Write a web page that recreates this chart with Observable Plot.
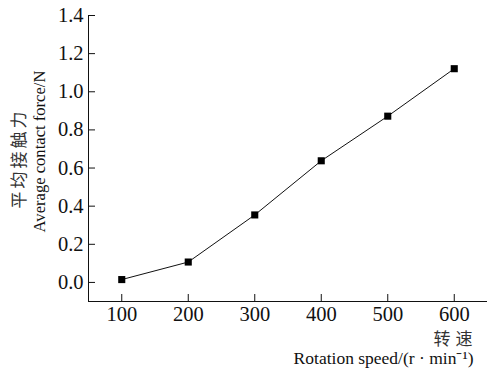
<!DOCTYPE html>
<html><head><meta charset="utf-8">
<script src="https://cdn.jsdelivr.net/npm/d3@7"></script>
<script src="https://cdn.jsdelivr.net/npm/@observablehq/plot@0.6"></script>
<style>body{margin:0;background:#fff} .cn text{letter-spacing:3px} .cnx text{letter-spacing:5px}</style>
</head><body><div id="chart"></div>
<script>
const speeds = [100, 200, 300, 400, 500, 600];
const forces = [0.015, 0.107, 0.354, 0.638, 0.872, 1.121];
const xTicks = [100, 200, 300, 400, 500, 600];
const yTicks = [0.0, 0.2, 0.4, 0.6, 0.8, 1.0, 1.2, 1.4];
const yLabelCn = "平均接触力";
const yLabelEn = "Average contact force/N";
const xLabelCn = "转速";
const xLabelEn = "Rotation speed/(r · min⁻¹)";

const data = speeds.map((s, i) => ({speed: s, force: forces[i]}));
const serif = "'Liberation Serif','Times New Roman',serif";
const cjk = "'Noto Sans CJK SC',sans-serif";

const chart = Plot.plot({
  width: 488, height: 369,
  marginLeft: 88, marginRight: 1, marginTop: 15, marginBottom: 68,
  style: {fontFamily: serif, fontSize: "20px", color: "#111", background: "#fff"},
  x: {domain: [50, 650]},
  y: {domain: [-0.1, 1.4]},
  marks: [
    Plot.axisX({ticks: xTicks, tickSize: -7, tickPadding: 12, tickFormat: d => d, label: null, fontSize: 20.5}),
    Plot.axisY({ticks: yTicks, tickSize: -7, tickPadding: 12, tickFormat: d => d.toFixed(1), label: null, fontSize: 20.5}),
    Plot.ruleX([50], {stroke: "#111"}),
    Plot.ruleY([-0.1], {stroke: "#111"}),
    Plot.line(data, {x: "speed", y: "force", stroke: "#111", strokeWidth: 1}),
    Plot.dot(data, {x: "speed", y: "force", symbol: "square", r: 4, fill: "#000", stroke: "none"}),
    Plot.text([yLabelCn], {className: "cn", frameAnchor: "left", dx: -69, dy: 0, rotate: -90, textAnchor: "middle", lineAnchor: "middle", fontFamily: cjk, fontSize: 17, fill: "#333", text: d => d}),
    Plot.text([yLabelEn], {frameAnchor: "left", dx: -49, dy: -7, rotate: -90, textAnchor: "middle", lineAnchor: "middle", fontFamily: serif, fontSize: 16.6, fill: "#111", text: d => d}),
    Plot.text([xLabelCn], {className: "cnx", frameAnchor: "bottom-right", dx: -10, dy: 38, textAnchor: "end", lineAnchor: "middle", fontFamily: cjk, fontSize: 17, fill: "#333", text: d => d}),
    Plot.text([xLabelEn], {frameAnchor: "bottom-right", dx: -14, dy: 57, textAnchor: "end", lineAnchor: "middle", fontFamily: serif, fontSize: 17.5, fill: "#111", text: d => d})
  ]
});
document.getElementById("chart").appendChild(chart);
</script>
</body></html>
